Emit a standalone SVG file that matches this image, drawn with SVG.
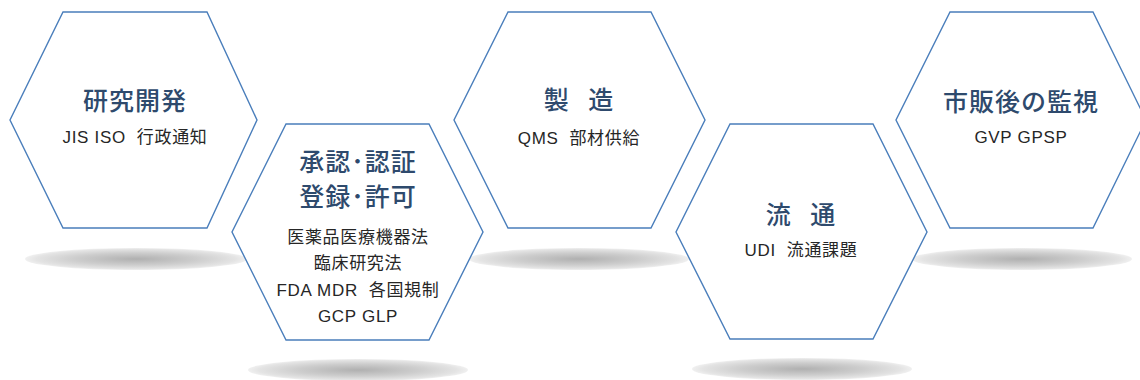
<svg xmlns="http://www.w3.org/2000/svg" width="1140" height="380" viewBox="0 0 1140 380">
<style>
.hex{fill:#ffffff;stroke:#4a7ebb;stroke-width:1.4;stroke-linejoin:miter}
.shadow{fill:url(#sg)}
.title{font-family:"Noto Sans CJK JP",sans-serif;font-size:25px;font-weight:500;fill:#2e4a6d;text-anchor:middle;dominant-baseline:central;letter-spacing:1px}
.sub{font-family:"Liberation Sans","Noto Sans CJK JP",sans-serif;font-size:17px;fill:#262626;text-anchor:middle;dominant-baseline:central;letter-spacing:0.7px}
</style>
<defs>
<radialGradient id="sg" cx="0.5" cy="0.5" r="0.5">
<stop offset="0" stop-color="#b0b0b0"/>
<stop offset="0.55" stop-color="#cdcdcd"/>
<stop offset="0.9" stop-color="#e4e4e4"/>
<stop offset="1" stop-color="#f0f0f0"/>
</radialGradient>
</defs>
<rect width="1140" height="380" fill="#ffffff"/>
<g id="shadows">
<ellipse class="shadow" cx="136" cy="259" rx="111" ry="11"/>
<ellipse class="shadow" cx="358" cy="370" rx="110" ry="11"/>
<ellipse class="shadow" cx="579" cy="259" rx="110" ry="11"/>
<ellipse class="shadow" cx="802" cy="369" rx="110" ry="11"/>
<ellipse class="shadow" cx="1022" cy="259" rx="110" ry="11"/>
</g>
<g id="connectors"></g>
<g id="node-research">
<polygon class="hex" points="63,12 207,12 257,120 207,228 63,228 10,120"/>
<text class="title" x="135" y="99">研究開発</text>
<text class="sub" x="135" y="137" xml:space="preserve">JIS ISO  行政通知</text>
</g>
<g id="node-approval">
<polygon class="hex" points="286,124 429,124 483,232 429,340 286,340 232,232"/>
<text class="title" x="358" y="160">承認･認証</text>
<text class="title" x="358" y="195">登録･許可</text>
<text class="sub" x="358" y="237">医薬品医療機器法</text>
<text class="sub" x="358" y="263.5">臨床研究法</text>
<text class="sub" x="358" y="290" xml:space="preserve">FDA MDR  各国規制</text>
<text class="sub" x="358" y="316.5">GCP GLP</text>
</g>
<g id="node-manufacturing">
<polygon class="hex" points="508,12 651,12 705,120 651,228 508,228 454,120"/>
<text class="title" x="579" y="98" word-spacing="12">製 造</text>
<text class="sub" x="579" y="138" xml:space="preserve">QMS  部材供給</text>
</g>
<g id="node-distribution">
<polygon class="hex" points="730,124 873,124 927,232 873,339 730,339 676,232"/>
<text class="title" x="801" y="213" word-spacing="12">流 通</text>
<text class="sub" x="801" y="250" xml:space="preserve">UDI  流通課題</text>
</g>
<g id="node-postmarket">
<polygon class="hex" points="950,12 1093,12 1146,120 1093,228 950,228 896,120"/>
<text class="title" x="1021" y="100">市販後の監視</text>
<text class="sub" x="1021" y="137">GVP GPSP</text>
</g>
</svg>
